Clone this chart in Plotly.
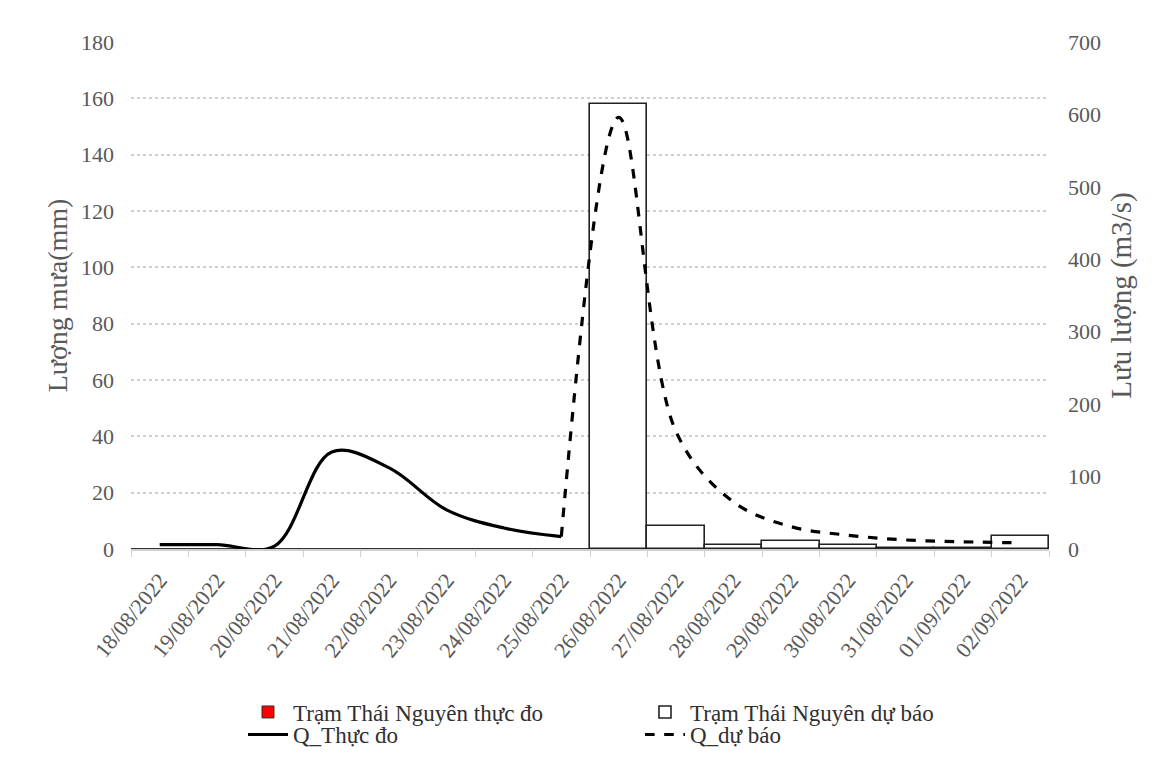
import plotly.graph_objects as go

dates = ["18/08/2022", "19/08/2022", "20/08/2022", "21/08/2022", "22/08/2022",
         "23/08/2022", "24/08/2022", "25/08/2022", "26/08/2022", "27/08/2022",
         "28/08/2022", "29/08/2022", "30/08/2022", "31/08/2022", "01/09/2022",
         "02/09/2022"]

# Rainfall (mm) - observed and forecast at Thai Nguyen station
rain_obs = [0, 0, 0, 0, 0, 0, 0, 0, None, None, None, None, None, None, None, None]
rain_fc = [None, None, None, None, None, None, None, None, 158, 8, 1.5, 3, 1.5, 0.5, 0.5, 4.7]

# Discharge (m3/s) - observed and forecast
q_obs = [6, 6, 4, 134, 112, 54, 29, 17, None, None, None, None, None, None, None, None]
q_fc = [None, None, None, None, None, None, None, 17, 596, 162, 65, 31, 19, 12.5, 10, 8.5]

FONT = "Liberation Serif"
GRAY = "#595959"

fig = go.Figure()

fig.add_trace(go.Bar(
    x=dates, y=rain_obs, name="Trạm Thái Nguyên thực đo",
    marker=dict(color="#ff0000", line=dict(color="#333333", width=1)),
    legend="legend", yaxis="y"))
fig.add_trace(go.Bar(
    x=dates, y=rain_fc, name="Trạm Thái Nguyên dự báo",
    marker=dict(color="#ffffff", line=dict(color="#222222", width=1.6)),
    legend="legend", yaxis="y"))
fig.add_trace(go.Scatter(
    x=dates, y=q_obs, name="Q_Thực đo", mode="lines",
    line=dict(color="#000000", width=3.2, shape="spline", smoothing=1.0),
    legend="legend2", yaxis="y2"))
fig.add_trace(go.Scatter(
    x=dates, y=q_fc, name="Q_dự báo", mode="lines",
    line=dict(color="#000000", width=3.2, dash="dash", shape="spline", smoothing=1.0),
    legend="legend2", yaxis="y2"))

legend_common = dict(
    orientation="h", xanchor="left", yanchor="middle",
    font=dict(family=FONT, size=23, color="#303030"),
    entrywidth=342, entrywidthmode="pixels",
    bgcolor="rgba(0,0,0,0)", itemwidth=40, tracegroupgap=0,
)

fig.update_layout(
    width=1163, height=758,
    margin=dict(l=123, r=122, t=34, b=217, autoexpand=False),
    paper_bgcolor="white", plot_bgcolor="white",
    barmode="overlay", bargap=0,
    font=dict(family=FONT, size=20, color=GRAY),
    xaxis=dict(
        type="category", tickangle=-51, tickson="boundaries",
        ticks="outside", ticklen=6, tickcolor="#d0d0d0",
        showline=True, linecolor="#d0d0d0", linewidth=1.5,
        tickfont=dict(family=FONT, size=22, color=GRAY),
        ticklabelstandoff=8,
        showgrid=False, range=[-0.5, 15.5], automargin=False,
    ),
    yaxis=dict(
        range=[0, 180], dtick=20, showgrid=True,
        gridcolor="#cfcfcf", griddash="dot", gridwidth=1.5,
        zeroline=False, showline=False, automargin=False,
        tickfont=dict(family=FONT, size=22, color=GRAY),
        ticklabelstandoff=16,
        title=dict(text="Lượng mưa(mm)", font=dict(family=FONT, size=28, color=GRAY), standoff=5),
    ),
    yaxis2=dict(
        range=[0, 700], dtick=100, overlaying="y", side="right",
        showgrid=False, zeroline=False, showline=False, automargin=False,
        tickfont=dict(family=FONT, size=22, color=GRAY),
        ticklabelstandoff=18,
        title=dict(text="Lưu lượng (m3/s)", font=dict(family=FONT, size=29, color=GRAY), standoff=10),
    ),
    legend=dict(x=0.122, y=-0.3215, **legend_common),
    legend2=dict(x=0.122, y=-0.366, **legend_common),
    showlegend=True,
)

fig.write_html("out.html")
